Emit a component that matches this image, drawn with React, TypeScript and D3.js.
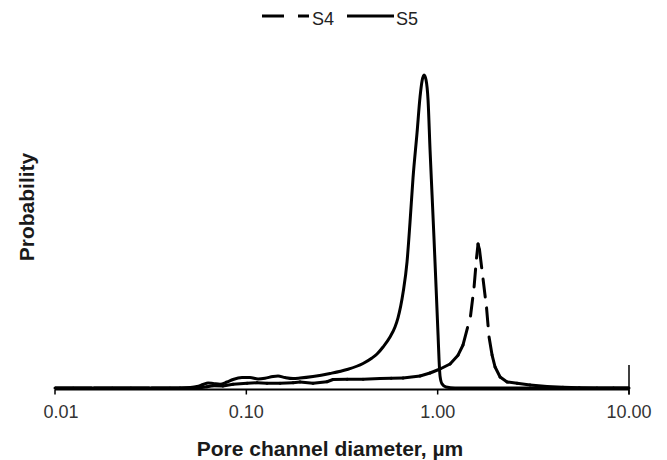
import React from "react";
import * as d3 from "d3";

// Pore channel diameter (µm) and probability (arbitrary units, S5 peak = 100)
const S4_DIAMETER = [
  0.01, 0.0125, 0.016, 0.02, 0.025, 0.032, 0.04, 0.045, 0.0508, 0.0573, 0.0623, 0.067,
  0.0755, 0.0852, 0.1008, 0.1137, 0.1282, 0.15, 0.1754, 0.1908, 0.2231, 0.2641, 0.2838,
  0.336, 0.4073, 0.4997, 0.5706, 0.6592, 0.8089, 0.9125, 1.029, 1.161, 1.278, 1.357,
  1.485, 1.55, 1.596, 1.626, 1.655, 1.727, 1.801, 1.856, 1.925, 1.996, 2.12, 2.306,
  2.601, 3.041, 3.731, 4.523, 5.5, 6.8, 8.3, 10,
];
const S4_PROB = [
  0, 0, 0, 0, 0, 0, 0, 0, 0, 0.06, 0.42, 0.7,
  0.64, 1.18, 1.5, 1.69, 1.5, 1.5, 1.69, 1.92, 1.5, 2.0, 2.72,
  2.78, 2.78, 3.04, 3.1, 3.19, 3.83, 4.79, 6.07, 7.67, 10.5, 13.74,
  23.0, 32.3, 41.5, 46.0, 44.1, 34.8, 25.6, 16.3, 10.5, 6.7, 3.5, 1.92,
  1.5, 0.96, 0.48, 0.22, 0.08, 0, 0, 0,
];

const S5_DIAMETER = [
  0.01, 0.045, 0.0508, 0.0552, 0.0594, 0.0631, 0.067, 0.0729, 0.0793, 0.0852, 0.0949,
  0.1045, 0.1151, 0.1252, 0.1378, 0.1464, 0.1593, 0.1754, 0.1908, 0.2231, 0.2738, 0.336,
  0.4073, 0.4538, 0.482, 0.5182, 0.5636, 0.5985, 0.6204, 0.6592, 0.6917, 0.717, 0.7434,
  0.7801, 0.8089, 0.8287, 0.849, 0.8696, 0.8908, 0.9125, 0.9348, 0.9576, 0.9808, 1.0048,
  1.017, 1.029, 1.054, 1.106, 1.233, 10,
];
const S5_PROB = [
  0, 0, 0.16, 0.48, 1.12, 1.6, 1.44, 1.18, 1.92, 2.72, 3.35,
  3.35, 2.88, 3.1, 3.67, 3.83, 3.35, 3.04, 3.19, 3.67, 4.63, 5.91,
  7.83, 9.58, 10.86, 13.1, 16.3, 19.5, 22.4, 30.4, 40.3, 53.0, 67.1,
  81.5, 93.0, 98.1, 100, 98.4, 92.0, 76.0, 61.7, 47.3, 32.3, 16.9,
  8.9, 3.8, 1.3, 0.3, 0, 0,
];

const X_TICKS = [0.01, 0.1, 1, 10];
const X_TICK_LABELS = ["0.01", "0.10", "1.00", "10.00"];
const SERIES_NAMES = ["S4", "S5"];

const FONT = "'Liberation Sans', Arial, sans-serif";

export default function App() {
  const W = 667;
  const H = 460;
  const x = d3.scaleLog().domain([0.01, 10]).range([55, 629]);
  const y = d3.scaleLinear().domain([0, 100]).range([388, 75]);
  const axisY = 389.5;

  const s4 = S4_DIAMETER.map((d, i) => [x(d), y(S4_PROB[i])] as [number, number]);
  const s5 = S5_DIAMETER.map((d, i) => [x(d), y(S5_PROB[i])] as [number, number]);

  const line = d3.line().curve(d3.curveMonotoneX);
  const s5Path = line(s5) || "";

  return (
    <svg
      width={W}
      height={H}
      style={{ position: "fixed", left: 0, top: 0, background: "#fff", display: "block" }}
      fontFamily={FONT}
    >
      <rect x={0} y={0} width={W} height={H} fill="#fff" />

      {/* Legend */}
      <g>
        <line x1={262} x2={309} y1={16} y2={16} stroke="#000" strokeWidth={3} strokeDasharray="22 14" />
        <text x={312} y={25} fontSize={18} fill="#222">{SERIES_NAMES[0]}</text>
        <line x1={347} x2={394} y1={16} y2={16} stroke="#000" strokeWidth={3} />
        <text x={396} y={25} fontSize={18} fill="#222">{SERIES_NAMES[1]}</text>
      </g>

      {/* Series S5 (solid) */}
      <path d={s5Path} fill="none" stroke="#000" strokeWidth={3} strokeLinejoin="round" />

      {/* Series S4 (dashed, dash pattern restarting at each data segment) */}
      <g>
        {s4.slice(0, -1).map((p, i) => (
          <line
            key={i}
            x1={p[0]}
            y1={p[1]}
            x2={s4[i + 1][0]}
            y2={s4[i + 1][1]}
            stroke="#000"
            strokeWidth={3}
            strokeLinecap="round"
            strokeDasharray="18 13"
          />
        ))}
      </g>

      {/* X axis */}
      <line x1={x(0.01)} x2={x(10)} y1={axisY} y2={axisY} stroke="#000" strokeWidth={2} />
      <line x1={x(10)} x2={x(10)} y1={365} y2={axisY + 5} stroke="#000" strokeWidth={1.5} />
      {X_TICKS.map((t, i) => (
        <g key={t}>
          <line x1={x(t)} x2={x(t)} y1={axisY} y2={axisY + 5} stroke="#000" strokeWidth={1.5} />
          <text
            x={Math.max(x(t), 61)}
            y={418}
            fontSize={18}
            textAnchor="middle"
            fill="#333"
          >
            {X_TICK_LABELS[i]}
          </text>
        </g>
      ))}

      {/* Axis titles */}
      <text x={330} y={456} fontSize={21} fontWeight="bold" textAnchor="middle" fill="#1a1a1a">
        Pore channel diameter, µm
      </text>
      <text
        transform="translate(34,207) rotate(-90)"
        fontSize={21}
        fontWeight="bold"
        textAnchor="middle"
        fill="#1a1a1a"
      >
        Probability
      </text>
    </svg>
  );
}
